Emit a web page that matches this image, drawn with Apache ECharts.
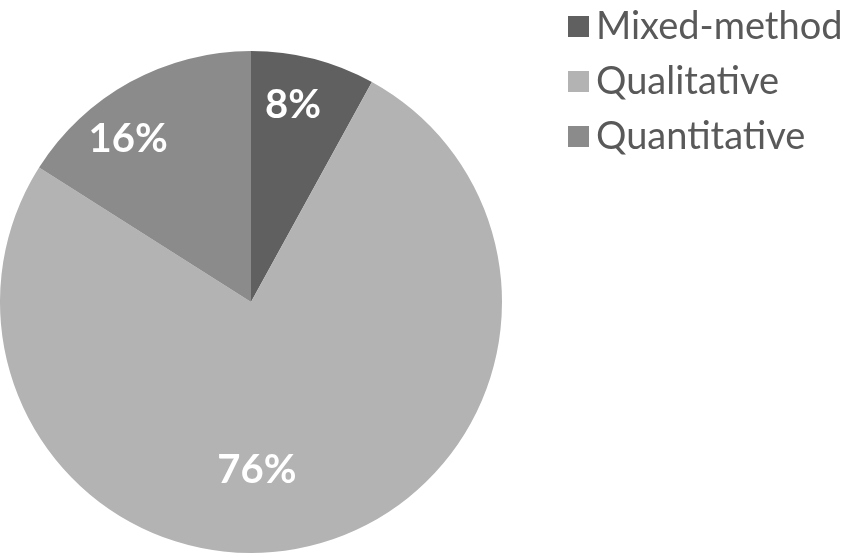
<!DOCTYPE html>
<html><head><meta charset="utf-8">
<script src="https://cdn.jsdelivr.net/npm/echarts@6/dist/echarts.min.js"></script>
<style>html,body{margin:0;padding:0;background:#fff}#c{width:854px;height:554px}</style>
</head><body><div id="c"></div>
<script>
const categories = ['Mixed-method', 'Qualitative', 'Quantitative'];
const values = [8, 76, 16];
const colors = ['#606060', '#b3b3b3', '#8b8b8b'];
const labelOffsets = [[10, -72], [-26, 44], [-61, -50]];

const chart = echarts.init(document.getElementById('c'), null, {renderer: 'canvas'});
chart.setOption({
  animation: false,
  legend: {
    orient: 'vertical', left: 563, top: 1,
    itemWidth: 21, itemHeight: 21, itemGap: 14,
    icon: 'rect',
    textStyle: {fontFamily: 'Lato', fontSize: 38, color: '#595959', lineHeight: 41, padding: [0, 0, 0, 2]},
    data: categories
  },
  series: [{
    type: 'pie',
    center: [251, 302], radius: 251,
    startAngle: 90, clockwise: true,
    label: {show: true, position: 'inside', formatter: '{c}%', color: '#fff',
            fontFamily: 'Lato', fontWeight: 'bold', fontSize: 40},
    labelLine: {show: false},
    emphasis: {disabled: true},
    itemStyle: {borderWidth: 0},
    data: categories.map((n, i) => ({name: n, value: values[i], itemStyle: {color: colors[i]},
      label: {offset: labelOffsets[i]}}))
  }]
});
</script></body></html>
